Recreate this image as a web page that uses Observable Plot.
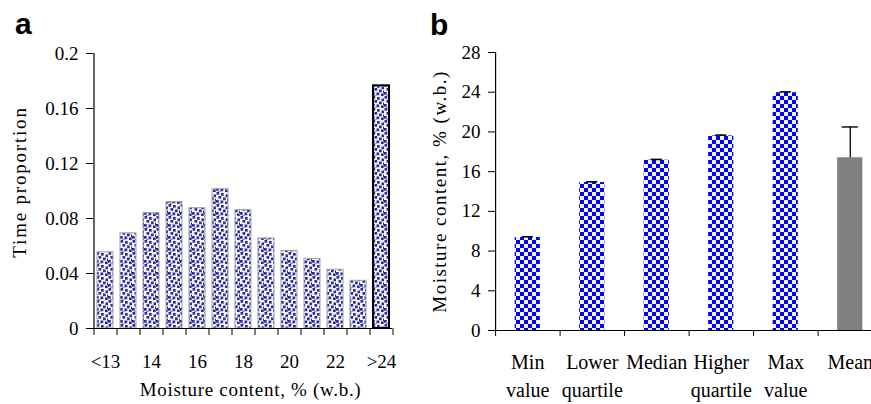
<!DOCTYPE html>
<html><head><meta charset="utf-8">
<script src="https://cdn.jsdelivr.net/npm/d3@7"></script>
<script src="https://cdn.jsdelivr.net/npm/@observablehq/plot@0.6"></script>
<style>
html,body{margin:0;padding:0;background:#fff;overflow:hidden;}
#wrap{position:relative;width:871px;height:404px;overflow:hidden;background:#fff;}
#pa{position:absolute;left:0;top:0;width:420px;height:404px;}
#pb{position:absolute;left:420px;top:0;width:462px;height:404px;}
#pa svg,#pb svg{max-width:none !important;display:block;}
.lab{position:absolute;font-family:"Liberation Sans",Arial,sans-serif;font-weight:bold;font-size:30px;line-height:1;color:#000;}
</style></head><body>
<div id="wrap"><div id="pa"></div><div id="pb"></div>
<div class="lab" style="left:15px;top:9px">a</div>
<div class="lab" style="left:430px;top:10px">b</div></div>
<script>
// Panel a data
const moistureClasses = ["<13","13","14","15","16","17","18","19","20","21","22","23",">24"];
const timeProportion = [0.0554,0.0692,0.0839,0.0919,0.0875,0.1013,0.0861,0.0655,0.0564,0.0506,0.0427,0.0347,0.1765];
const yTicksA = [0,0.04,0.08,0.12,0.16,0.2];

// Panel b data
const statLabels = ["Min\nvalue","Lower\nquartile","Median","Higher\nquartile","Max\nvalue","Mean"];
const statValues = [9.36,14.9,17.15,19.6,23.95,17.4];
const statErrors = [0.08,0.08,0.08,0.08,0.08,3.1];
const yTicksB = [0,4,8,12,16,20,24,28];

const serif = '"Liberation Serif","Times New Roman",serif';

const dataA = moistureClasses.map((c,i)=>({c, v: timeProportion[i], last: i===moistureClasses.length-1}));
const stepA = 23;
const plotA = Plot.plot({
  width: 420, height: 404,
  marginLeft: 93, marginRight: 28, marginTop: 53, marginBottom: 76,
  style: {fontFamily: serif, fontSize: "19px", color: "#000", background: "transparent", overflow: "visible"},
  x: {domain: moistureClasses, paddingInner: 0.32, paddingOuter: 0.16},
  y: {domain: [0, 0.2]},
  marks: [
    Plot.barY(dataA.filter(d=>!d.last), {x:"c", y:"v", fill:"url(#dotsA)", stroke:"#a0a0a0", strokeWidth:1}),
    Plot.barY(dataA.filter(d=>d.last), {x:"c", y:"v", fill:"url(#dotsA)", stroke:"#000", strokeWidth:2}),
    Plot.ruleY([0], {stroke:"#000", strokeWidth:1.2}),
    Plot.ruleX([moistureClasses[0]], {y1:0, y2:0.2, dx:-stepA/2, stroke:"#000", strokeWidth:1.2}),
    Plot.axisY({ticks: yTicksA, tickSize: 7, tickPadding: 8, label: null, tickFormat: d => String(d), fontSize: 19}),
    Plot.axisX({ticks: moistureClasses, tickSize: 7, tickFormat: ()=>"", dx: -stepA/2, label: null}),
    Plot.axisX({ticks: [moistureClasses[moistureClasses.length-1]], tickSize: 7, tickFormat: ()=>"", dx: stepA/2, label: null}),
    Plot.axisX({ticks: moistureClasses, tickSize: 0, tickPadding: 25.5, fontSize: 19, tickFormat: (d,i)=> i%2===0 ? d : "", label: null}),
    Plot.text(["Time proportion"], {frameAnchor:"left", textAnchor:"middle", rotate:-90, dx:-74, dy:-9, fontSize:19}),
    Plot.text(["Moisture content, % (w.b.)"], {frameAnchor:"bottom", textAnchor:"middle", lineAnchor:"bottom", dx:7.5, dy:67.7, fontSize:19})
  ]
});

const dataB = statLabels.map((s,i)=>({s, v: statValues[i], e: statErrors[i], mean: i===statLabels.length-1}));
const stepB = 64.33;
const plotB = Plot.plot({
  width: 462, height: 404,
  marginLeft: 75, marginRight: 0, marginTop: 52, marginBottom: 74,
  style: {fontFamily: serif, fontSize: "20px", color: "#000", background: "transparent", overflow: "visible"},
  x: {domain: statLabels, paddingInner: 0.61, paddingOuter: 0.305, round: false},
  y: {domain: [0, 28]},
  marks: [
    Plot.barY(dataB.filter(d=>!d.mean), {x:"s", y:"v", fill:"url(#checkB)"}),
    Plot.barY(dataB.filter(d=>d.mean), {x:"s", y:"v", fill:"#808080"}),
    Plot.ruleX(dataB, {x:"s", y1:"v", y2: d=>d.v+d.e, stroke:"#000", strokeWidth:1.3}),
    Plot.tickY(dataB.filter(d=>!d.mean), {x:"s", y: d=>d.v+d.e, stroke:"#000", strokeWidth:1.6, insetLeft:7, insetRight:7}),
    Plot.tickY(dataB.filter(d=>d.mean), {x:"s", y: d=>d.v+d.e, stroke:"#000", strokeWidth:1.4, insetLeft:4.5, insetRight:4.5}),
    Plot.ruleY([0], {stroke:"#000", strokeWidth:1.2}),
    Plot.ruleX([statLabels[0]], {y1:0, y2:28, dx:-stepB/2, stroke:"#000", strokeWidth:1.2}),
    Plot.axisY({ticks: yTicksB, tickSize: 7, tickPadding: 8, label: null, fontSize: 19}),
    Plot.axisX({ticks: statLabels, tickSize: 6, tickFormat: ()=>"", dx: -stepB/2, label: null}),
    Plot.axisX({ticks: statLabels, tickSize: 0, tickPadding: 19, fontSize: 20, lineHeight: 1.385, label: null}),
    Plot.text(["Moisture content, % (w.b.)"], {frameAnchor:"left", textAnchor:"middle", rotate:-90, dx:-56, dy:0, fontSize:19})
  ]
});

// patterns
(function(){
  const defsA = d3.select(plotA).insert("defs", ":first-child");
  const p = defsA.append("pattern").attr("id","dotsA").attr("patternUnits","userSpaceOnUse").attr("width",12).attr("height",12);
  p.append("rect").attr("width",12).attr("height",12).attr("fill","#f5f5fa");
  const dots = [[0.5,0],[5,1],[9.5,2.5],[2.5,4],[7,5.5],[0,8],[4.5,8.5],[9,9.5],[2,11.5],[11,6.5]];
  dots.forEach(([x,y]) => p.append("rect").attr("x",x).attr("y",y).attr("width",2.7).attr("height",2.7).attr("fill","#2a2a9a"));
  const defsB = d3.select(plotB).insert("defs", ":first-child");
  const q = defsB.append("pattern").attr("id","checkB").attr("patternUnits","userSpaceOnUse").attr("width",8).attr("height",8);
  q.append("rect").attr("width",8).attr("height",8).attr("fill","#f4f4ff");
  q.append("rect").attr("width",4).attr("height",4).attr("fill","#0000ff");
  q.append("rect").attr("x",4).attr("y",4).attr("width",4).attr("height",4).attr("fill","#0000ff");
})();

function spacing(svg, txt, ls){
  d3.select(svg).selectAll("text").filter(function(){return this.textContent === txt;}).style("letter-spacing", ls);
}
spacing(plotA, "Time proportion", "1.8px");
spacing(plotA, "Moisture content, % (w.b.)", "0.7px");
spacing(plotB, "Moisture content, % (w.b.)", "1.5px");

plotA.style.maxWidth = "none";
plotB.style.maxWidth = "none";
document.getElementById("pa").appendChild(plotA);
document.getElementById("pb").appendChild(plotB);
</script>
</body></html>
